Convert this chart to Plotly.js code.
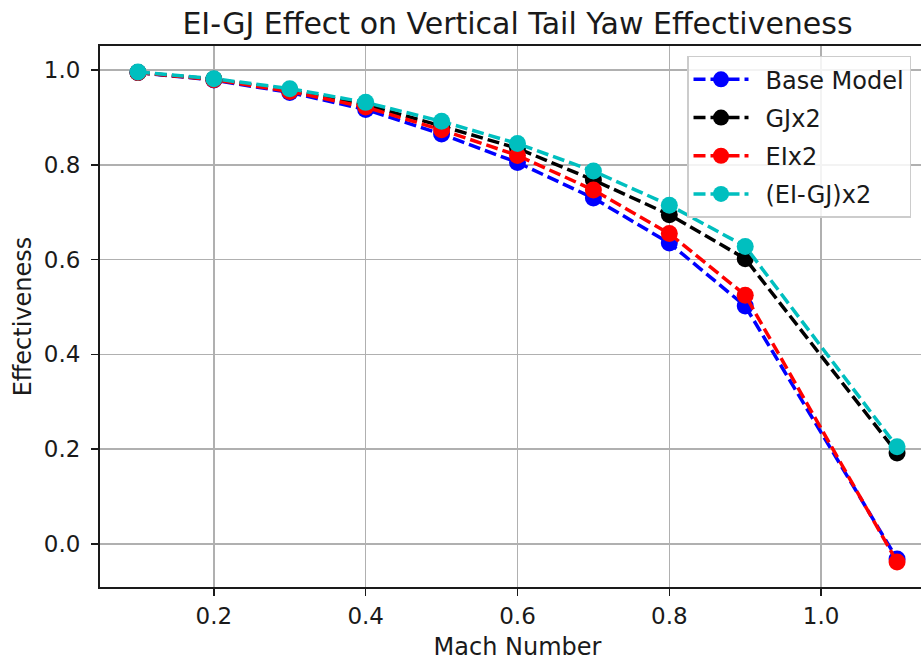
<!DOCTYPE html>
<html>
<head>
<meta charset="utf-8">
<script src="https://cdn.plot.ly/plotly-3.0.1.min.js"></script>
<style>
html, body { margin:0; padding:0; overflow:hidden; background:#fff; }
#chart { width:960px; height:661px; }
</style>
</head>
<body>
<div id="chart"></div>
<script>
const mach = [0.1, 0.2, 0.3, 0.4, 0.5, 0.6, 0.7, 0.8, 0.9, 1.1];
const baseModel = [0.995, 0.979, 0.953, 0.917, 0.865, 0.805, 0.730, 0.635, 0.502, -0.032];
const gjx2      = [0.995, 0.981, 0.957, 0.927, 0.882, 0.835, 0.768, 0.695, 0.602, 0.192];
const eix2      = [0.995, 0.980, 0.955, 0.922, 0.874, 0.820, 0.747, 0.655, 0.525, -0.038];
const eigjx2    = [0.996, 0.982, 0.961, 0.932, 0.892, 0.845, 0.787, 0.715, 0.628, 0.205];
const seriesNames = ["Base Model", "GJx2", "EIx2", "(EI-GJ)x2"];
const seriesColors = ["#0000ff", "#000000", "#ff0000", "#00bfbf"];
const seriesData = [baseModel, gjx2, eix2, eigjx2];

const font = "DejaVu Sans, sans-serif";
const traces = seriesData.map((ys, i) => ({
  x: mach, y: ys, name: "\u2002" + seriesNames[i], type: "scatter", mode: "lines+markers",
  legendgroup: "g" + i,
  line: { color: seriesColors[i], width: 3.5, dash: "12px,5px" },
  marker: { color: seriesColors[i], size: 17 }
}));

const layout = {
  width: 960, height: 661,
  margin: { l: 100, r: 25, t: 46, b: 74 },
  paper_bgcolor: "#fff", plot_bgcolor: "#fff",
  font: { family: font, color: "#000" },
  title: { text: "EI-GJ Effect on Vertical Tail Yaw Effectiveness", font: { size: 30, family: font, color: "#1a1a1a" },
           x: 0.5, xref: "paper", xanchor: "center", y: 22, yref: "container", yanchor: "middle" },
  xaxis: {
    range: [0.05, 1.15], tickvals: [0.2, 0.4, 0.6, 0.8, 1.0], ticktext: ["0.2", "0.4", "0.6", "0.8", "1.0"],
    showgrid: true, gridcolor: "#b0b0b0", gridwidth: 1.6, zeroline: false,
    showline: true, linecolor: "#1a1a1a", linewidth: 2, mirror: true,
    ticks: "outside", ticklen: 7, tickwidth: 1.6, tickcolor: "#1a1a1a",
    tickfont: { size: 23, family: font, color: "#1a1a1a" },
    title: { text: "Mach Number", font: { size: 24, family: font, color: "#1a1a1a" }, standoff: 15 }
  },
  yaxis: {
    range: [-0.091, 1.051], tickvals: [0.0, 0.2, 0.4, 0.6, 0.8, 1.0], ticktext: ["0.0", "0.2", "0.4", "0.6", "0.8", "1.0"],
    showgrid: true, gridcolor: "#b0b0b0", gridwidth: 1.6, zeroline: false,
    showline: true, linecolor: "#1a1a1a", linewidth: 2, mirror: true,
    ticks: "outside", ticklen: 7, tickwidth: 1.6, tickcolor: "#1a1a1a",
    ticklabelstandoff: 6,
    tickfont: { size: 23, family: font, color: "#1a1a1a" },
    title: { text: "Effectiveness", font: { size: 24, family: font, color: "#1a1a1a" }, standoff: 5 }
  },
  showlegend: true,
  legend: {
    x: 0.703, y: 0.982, xanchor: "left", yanchor: "top",
    bgcolor: "rgba(255,255,255,0.85)", bordercolor: "#cccccc", borderwidth: 1.5,
    font: { size: 24, family: font, color: "#1a1a1a" }, traceorder: "grouped", tracegroupgap: 4, itemwidth: 55
  }
};

Plotly.newPlot("chart", traces, layout, { displayModeBar: false, staticPlot: true });
</script>
</body>
</html>
